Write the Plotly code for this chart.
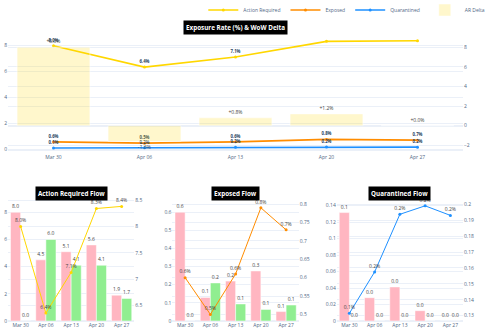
import plotly.graph_objects as go
from plotly.subplots import make_subplots

weeks = ["Mar 30", "Apr 06", "Apr 13", "Apr 20", "Apr 27"]
ar_rate = [8.0, 6.36, 7.13, 8.34, 8.38]
exp_rate = [0.60, 0.50, 0.61, 0.79, 0.73]
q_rate = [0.1315, 0.1575, 0.1937, 0.199, 0.193]
ar_delta = [8.0, -1.6, 0.8, 1.2, 0.0]

ar_in = [8.0, 4.5, 5.1, 5.6, 1.9]
ar_out = [0.0, 6.0, 4.1, 4.1, 1.66]
exp_in = [0.6, 0.13, 0.22, 0.276, 0.052]
exp_out = [0.0, 0.21, 0.094, 0.064, 0.088]
q_in = [0.1315, 0.0283, 0.0413, 0.0125, 0.0]
q_out = [0.0, 0.0, 0.0, 0.0, 0.0]

GOLD = "#FFD700"
ORANGE = "#FF8C00"
BLUE = "#1E90FF"
PINK = "#FFB6C1"
GREEN = "#90EE90"
TXT = "#444"
FS = 5

fig = make_subplots(
    rows=2, cols=3,
    specs=[[{"colspan": 3, "secondary_y": True}, None, None],
           [{"secondary_y": True}, {"secondary_y": True}, {"secondary_y": True}]],
)

# ---- top chart ----
for name, vals, col in [("Action Required", ar_rate, GOLD),
                        ("Exposed", exp_rate, ORANGE),
                        ("Quarantined", q_rate, BLUE)]:
    fig.add_trace(go.Scatter(
        x=weeks, y=vals, name=name, mode="lines+markers+text",
        line=dict(color=col, width=1.7), marker=dict(size=3, color=col),
        texttemplate="<b>%{y:.1f}%</b>", textposition="top center",
        textfont=dict(size=4.3, color="#2a3f5f")), row=1, col=1, secondary_y=False)

fig.add_trace(go.Bar(
    x=weeks, y=ar_delta, name="AR Delta",
    marker=dict(color="rgba(255,215,0,0.2)"),
    text=[f"{v:+.1f}%" for v in ar_delta], textposition="outside",
    textfont=dict(size=FS, color=TXT), constraintext="none", cliponaxis=False),
    row=1, col=1, secondary_y=True)

# ---- bottom charts ----
flows = [
    (1, ar_in, ar_out, ar_rate, GOLD),
    (2, exp_in, exp_out, exp_rate, ORANGE),
    (3, q_in, q_out, q_rate, BLUE),
]
for c, vin, vout, rate, col in flows:
    fig.add_trace(go.Bar(x=weeks, y=vin, name="Inflow", marker_color=PINK,
                         texttemplate="%{y:.1f}", textposition="outside",
                         textfont=dict(size=FS, color=TXT), constraintext="none",
                         cliponaxis=False, showlegend=False),
                  row=2, col=c, secondary_y=False)
    fig.add_trace(go.Bar(x=weeks, y=vout, name="Outflow", marker_color=GREEN,
                         texttemplate="%{y:.1f}", textposition="outside",
                         textfont=dict(size=FS, color=TXT), constraintext="none",
                         cliponaxis=False, showlegend=False),
                  row=2, col=c, secondary_y=False)
    fig.add_trace(go.Scatter(x=weeks, y=rate, name="Rate", mode="lines+markers+text",
                             line=dict(color=col, width=1), marker=dict(size=3, color=col),
                             texttemplate="%{y:.1f}%", textposition="top center",
                             textfont=dict(size=FS, color=TXT), cliponaxis=False,
                             showlegend=False),
                  row=2, col=c, secondary_y=True)

# ---- domains & axes ----
top_dom = [0.5915, 1.0]
bot_dom = [0.0, 0.4296]
xdoms = [[0.0, 0.2775], [0.3615, 0.639], [0.7225, 1.0]]

tick = dict(size=FS, color="#506784")
fig.update_xaxes(domain=[0, 1], row=1, col=1, tickfont=tick)
fig.update_yaxes(domain=top_dom, row=1, col=1, secondary_y=False,
                 range=[-0.254, 8.67], dtick=2, tick0=0, tickfont=tick)
fig.update_yaxes(domain=top_dom, row=1, col=1, secondary_y=True,
                 range=[-2.79, 9.05], dtick=2, tick0=0, tickfont=tick, showgrid=True)

left_cfg = [dict(range=[0, 8.98], dtick=2), dict(range=[0, 0.673], dtick=0.1),
            dict(range=[0, 0.148], dtick=0.02)]
right_cfg = [dict(range=[6.21, 8.52], dtick=0.5), dict(range=[0.482, 0.814], dtick=0.05),
             dict(range=[0.1267, 0.2033], dtick=0.01)]
for i in range(3):
    fig.update_xaxes(domain=xdoms[i], row=2, col=i + 1, tickfont=tick)
    fig.update_yaxes(domain=bot_dom, row=2, col=i + 1, secondary_y=False,
                     tick0=0, tickfont=tick, **left_cfg[i])
    fig.update_yaxes(domain=bot_dom, row=2, col=i + 1, secondary_y=True,
                     tick0=0, tickfont=tick, showgrid=True, **right_cfg[i])

# ---- titles ----
def title(text, x, y):
    fig.add_annotation(text=f"<b>{text}</b>", x=x, y=y, xref="paper", yref="paper",
                       xanchor="center", yanchor="middle", showarrow=False,
                       font=dict(size=6.3, color="white"), bgcolor="black", borderpad=2)

title("Exposure Rate (%) &amp; WoW Delta", 0.5, 1.035)
title("Action Required Flow", sum(xdoms[0]) / 2, 0.449)
title("Exposed Flow", sum(xdoms[1]) / 2, 0.449)
title("Quarantined Flow", sum(xdoms[2]) / 2, 0.449)

fig.update_layout(
    template="plotly_white",
    width=500, height=333,
    margin=dict(l=8, r=37, t=37, b=12, autoexpand=False),
    barmode="group",
    font=dict(size=FS),
    legend=dict(orientation="h", x=1.06, xanchor="right", y=1.095, yanchor="middle",
                font=dict(size=FS, color="#506784"), itemwidth=30,
                bgcolor="rgba(0,0,0,0)"),
)

fig.write_html("out.html")
